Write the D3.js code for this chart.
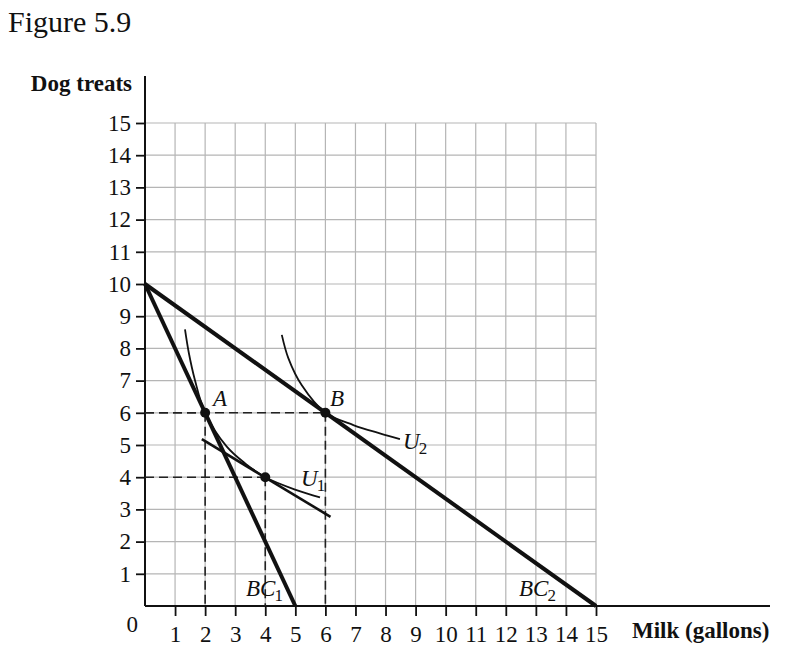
<!DOCTYPE html>
<html>
<head>
<meta charset="utf-8">
<script src="https://cdn.jsdelivr.net/npm/d3@7"></script>
<style>
  html, body { margin: 0; padding: 0; background: #fff; }
  svg { display: block; }
  text { font-family: "Liberation Serif", "Times New Roman", serif; fill: #111; }
</style>
</head>
<body>
<svg id="chart" width="800" height="666"></svg>
<script>
// ---- data ----
const xTicks = [1,2,3,4,5,6,7,8,9,10,11,12,13,14,15];
const yTicks = [1,2,3,4,5,6,7,8,9,10,11,12,13,14,15];
const bc1 = [[0,10],[5,0]];
const bc2 = [[0,10],[15,0]];
const tangentLine = [[1.89,5.18],[6.17,2.77]];
const u1 = [[1.33,8.59],[1.46,7.85],[1.66,7.02],[2,6],[2.72,4.95],[3.33,4.43],[4,4],[5.04,3.6],[5.82,3.37]];
const u2 = [[4.55,8.42],[4.77,7.69],[5.21,6.86],[6,6],[6.93,5.62],[7.81,5.36],[8.48,5.18]];
const points = [{name:"A", x:2, y:6}, {name:"", x:4, y:4}, {name:"B", x:6, y:6}];
const dashedH = [[2,6],[4,4],[6,6]];
const dashedV = [[2,6],[4,4],[6,6]];

const svg = d3.select("#chart");
const x = d3.scaleLinear().domain([0,15]).range([145,596]);
const y = d3.scaleLinear().domain([0,15]).range([606,123]);

// title
svg.append("text").attr("x",8).attr("y",32).attr("font-size",30).text("Figure 5.9");

// grid
const grid = svg.append("g").attr("stroke","#b5b5b5").attr("stroke-width",1.2);
xTicks.forEach(t => grid.append("line").attr("x1",x(t)).attr("x2",x(t)).attr("y1",y(0)).attr("y2",y(15)));
yTicks.forEach(t => grid.append("line").attr("x1",x(0)).attr("x2",x(15)).attr("y1",y(t)).attr("y2",y(t)));

// axes
const gx = svg.append("g").attr("transform",`translate(0,${y(0)})`)
  .call(d3.axisBottom(x).tickValues(xTicks).tickSize(10).tickSizeOuter(0));
gx.select(".domain").remove();
gx.selectAll(".tick line").attr("stroke","#111").attr("stroke-width",1.8);
gx.selectAll(".tick text").attr("y",36).attr("dy",null).attr("font-size",23)
  .attr("font-family","Liberation Serif").attr("fill","#111");

const gy = svg.append("g").attr("transform",`translate(${x(0)},0)`)
  .call(d3.axisLeft(y).tickValues(yTicks).tickSize(9).tickPadding(5).tickSizeOuter(0));
gy.select(".domain").remove();
gy.selectAll(".tick line").attr("stroke","#111").attr("stroke-width",1.8);
gy.selectAll(".tick text").attr("font-size",23).attr("font-family","Liberation Serif").attr("fill","#111");

svg.append("line").attr("x1",x(0)).attr("x2",x(0)).attr("y1",76).attr("y2",y(0))
  .attr("stroke","#111").attr("stroke-width",2);
svg.append("line").attr("x1",x(0)).attr("x2",770).attr("y1",y(0)).attr("y2",y(0))
  .attr("stroke","#111").attr("stroke-width",2);

svg.append("text").attr("x",138).attr("y",632).attr("font-size",23).attr("text-anchor","end").text("0");

// axis titles
svg.append("text").attr("x",132).attr("y",91).attr("font-size",23).attr("font-weight","bold")
  .attr("text-anchor","end").text("Dog treats");
svg.append("text").attr("x",632).attr("y",638).attr("font-size",23).attr("font-weight","bold")
  .text("Milk (gallons)");

// dashed lines
const dash = svg.append("g").attr("stroke","#222").attr("stroke-width",1.6).attr("stroke-dasharray","9,5");
dashedH.forEach(p => dash.append("line").attr("x1",x(0)).attr("x2",x(p[0])).attr("y1",y(p[1])).attr("y2",y(p[1])));
dashedV.forEach(p => dash.append("line").attr("x1",x(p[0])).attr("x2",x(p[0])).attr("y1",y(p[1])).attr("y2",y(0)));

const line = d3.line().x(d => x(d[0])).y(d => y(d[1]));
const curve = d3.line().x(d => x(d[0])).y(d => y(d[1])).curve(d3.curveCatmullRom.alpha(0.5));

// indifference curves
svg.append("path").attr("d",curve(u1)).attr("fill","none").attr("stroke","#111").attr("stroke-width",1.8);
svg.append("path").attr("d",curve(u2)).attr("fill","none").attr("stroke","#111").attr("stroke-width",1.8);

// tangent line
svg.append("path").attr("d",line(tangentLine)).attr("fill","none").attr("stroke","#111").attr("stroke-width",2.6);

// budget lines
svg.append("path").attr("d",line(bc1)).attr("fill","none").attr("stroke","#111").attr("stroke-width",4);
svg.append("path").attr("d",line(bc2)).attr("fill","none").attr("stroke","#111").attr("stroke-width",4);

// points
svg.selectAll("circle.pt").data(points).enter().append("circle")
  .attr("cx",d => x(d.x)).attr("cy",d => y(d.y)).attr("r",5).attr("fill","#111");

// labels
function label(xp, yp, main, sub) {
  const t = svg.append("text").attr("x",xp).attr("y",yp).attr("font-size",23);
  t.append("tspan").attr("font-style","italic").text(main);
  if (sub) t.append("tspan").attr("font-size",17).attr("dx",-1).attr("dy",5).text(sub);
}
label(213, 406, "A");
label(330, 406, "B");
label(301, 486, "U", "1");
label(403, 449, "U", "2");
label(246, 596, "BC", "1");
label(519, 596, "BC", "2");
</script>
</body>
</html>
